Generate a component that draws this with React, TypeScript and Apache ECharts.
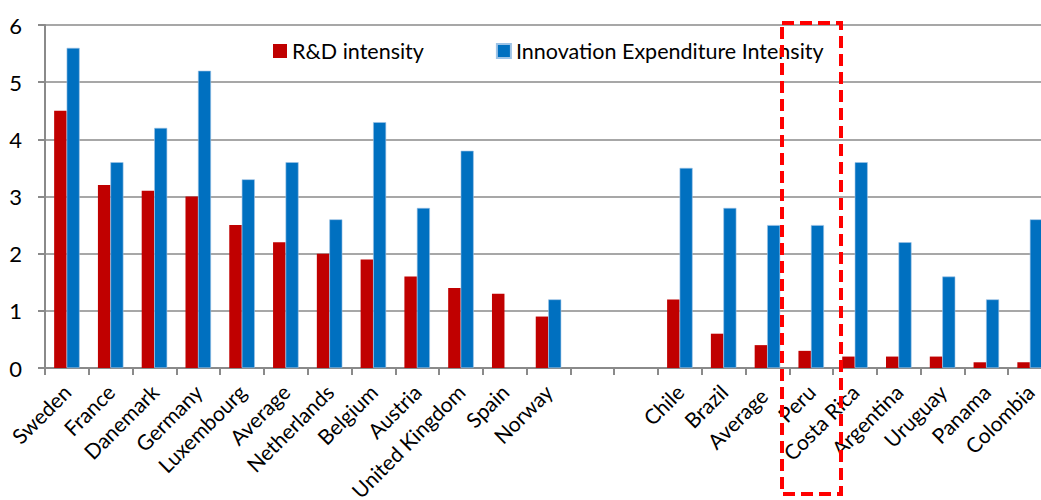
import React, { useEffect, useRef } from "react";
import * as echarts from "echarts";

const categories = [
  "Sweden", "France", "Danemark", "Germany", "Luxembourg", "Average",
  "Netherlands", "Belgium", "Austria", "United Kingdom", "Spain", "Norway",
  "", " ",
  "Chile", "Brazil", "Average ", "Peru", "Costa Rica", "Argentina",
  "Uruguay", "Panama", "Colombia",
];

const rdIntensity: (number | null)[] = [
  4.5, 3.2, 3.1, 3.0, 2.5, 2.2, 2.0, 1.9, 1.6, 1.4, 1.3, 0.9,
  null, null,
  1.2, 0.6, 0.4, 0.3, 0.2, 0.2, 0.2, 0.1, 0.1,
];

const innovationIntensity: (number | null)[] = [
  5.6, 3.6, 4.2, 5.2, 3.3, 3.6, 2.6, 4.3, 2.8, 3.8, null, 1.2,
  null, null,
  3.5, 2.8, 2.5, 2.5, 3.6, 2.2, 1.6, 1.2, 2.6,
];

const yTicks = [0, 1, 2, 3, 4, 5, 6];

const FONT = "Lato";

export default function App() {
  const ref = useRef<HTMLDivElement>(null);
  useEffect(() => {
    if (!ref.current) return;
    const chart = echarts.init(ref.current, null, { renderer: "svg" });
    chart.setOption({
      animation: false,
      textStyle: { fontFamily: FONT },
      grid: {
        left: 45,
        right: -11,
        top: 25,
        bottom: 132,
        containLabel: false,
        outerBoundsMode: "none",
      },
      legend: {
        left: 268,
        top: 35,
        itemWidth: 14,
        itemHeight: 14,
        itemGap: 72,
        icon: "rect",
        textStyle: { fontFamily: FONT, fontSize: 21.5, color: "#000" },
        data: ["R&D intensity", "Innovation Expenditure Intensity"],
      },
      xAxis: {
        type: "category",
        data: categories,
        axisLine: { lineStyle: { color: "#8a8a8a", width: 2 } },
        axisTick: { show: true, length: 7, lineStyle: { color: "#8a8a8a", width: 2 } },
        axisLabel: {
          interval: 0,
          rotate: 45,
          margin: 20,
          fontFamily: FONT,
          fontSize: 21,
          color: "#000",
        },
      },
      yAxis: {
        type: "value",
        min: yTicks[0],
        max: yTicks[yTicks.length - 1],
        interval: 1,
        axisLine: { show: true, lineStyle: { color: "#8a8a8a", width: 2 } },
        axisTick: { show: true, length: 7, lineStyle: { color: "#8a8a8a", width: 2 } },
        splitLine: { lineStyle: { color: "#8a8a8a", width: 1.5 } },
        axisLabel: { fontFamily: FONT, fontSize: 22, color: "#000", margin: 23 },
      },
      series: [
        {
          name: "R&D intensity",
          type: "bar",
          data: rdIntensity,
          barWidth: 12.5,
          barGap: "0%",
          itemStyle: { color: "#C00000" },
        },
        {
          name: "Innovation Expenditure Intensity",
          type: "bar",
          data: innovationIntensity,
          barWidth: 13,
          barGap: "0%",
          itemStyle: { color: "#0070C0", borderColor: "#9DC3E6", borderWidth: 0.6 },
        },
      ],
      graphic: [
        {
          type: "rect",
          z: 100,
          shape: { x: 782, y: 23, width: 59, height: 471 },
          style: { fill: "none", stroke: "#FF0000", lineWidth: 4, lineDash: [12, 6] },
        },
      ],
    });
    return () => chart.dispose();
  }, []);
  return (
    <div
      ref={ref}
      style={{ position: "fixed", left: 0, top: 0, width: 1041, height: 500, background: "#fff" }}
    />
  );
}
